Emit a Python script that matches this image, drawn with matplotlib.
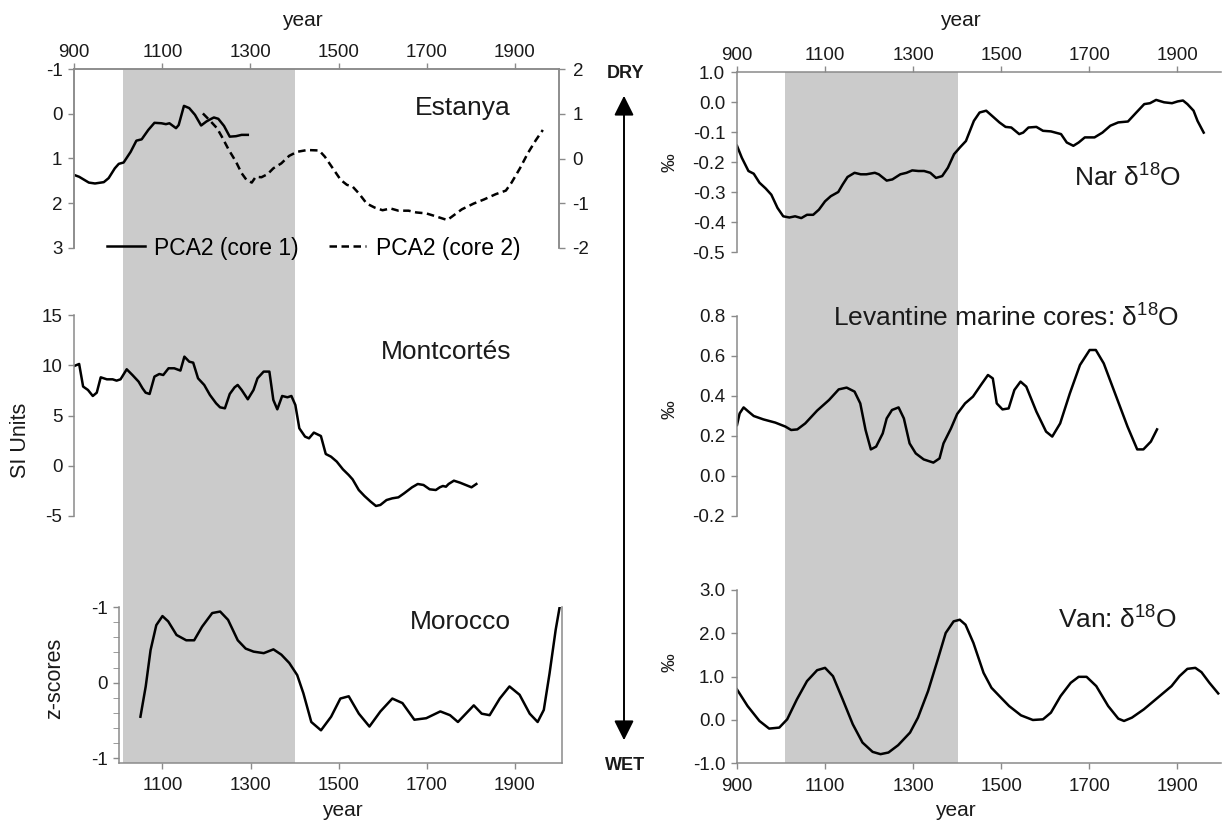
import matplotlib
matplotlib.use('Agg')
import matplotlib.pyplot as plt
from matplotlib.patches import FancyArrowPatch
import numpy as np

plt.rcParams['font.family'] = ['Liberation Sans', 'DejaVu Sans']
plt.rcParams['mathtext.default'] = 'regular'
plt.rcParams['axes.unicode_minus'] = False

# ---- data ----
shade_start, shade_end = 1010, 1402

est1_year = [900, 911, 933, 947, 967, 978, 992, 1001, 1012, 1028, 1041, 1053, 1068, 1082, 1098, 1108,
             1116, 1131, 1137, 1149, 1161, 1174, 1188, 1200, 1209, 1217, 1227, 1240, 1253, 1267, 1280, 1294]
est1_val = [1.37, 1.41, 1.54, 1.56, 1.53, 1.44, 1.22, 1.12, 1.09, 0.85, 0.60, 0.57, 0.36, 0.20, 0.21, 0.23,
            0.21, 0.32, 0.25, -0.18, -0.13, 0.02, 0.26, 0.17, 0.12, 0.08, 0.11, 0.27, 0.51, 0.50, 0.47, 0.47]

est2_year = [1192, 1208, 1224, 1235, 1251, 1267, 1280, 1291, 1303, 1312, 1325, 1339, 1352, 1370, 1388, 1406,
             1429, 1456, 1469, 1487, 1505, 1519, 1532, 1546, 1564, 1582, 1600, 1618, 1636, 1659, 1677, 1699,
             1722, 1747, 1758, 1780, 1807, 1830, 1857, 1880, 1893, 1912, 1930, 1948, 1964]
est2_val = [1.01, 0.85, 0.68, 0.49, 0.19, -0.07, -0.33, -0.48, -0.54, -0.41, -0.42, -0.35, -0.22, -0.11, 0.06, 0.15,
            0.19, 0.18, 0.04, -0.22, -0.48, -0.59, -0.63, -0.78, -1.01, -1.10, -1.16, -1.12, -1.17, -1.17, -1.21, -1.23,
            -1.30, -1.38, -1.30, -1.14, -1.01, -0.92, -0.80, -0.72, -0.54, -0.22, 0.12, 0.41, 0.64]

mont_year = [900, 911, 920, 931, 942, 951, 960, 974, 987, 996, 1005, 1019, 1032, 1046, 1055, 1062, 1071, 1082,
             1093, 1102, 1114, 1127, 1141, 1150, 1161, 1170, 1181, 1195, 1208, 1222, 1231, 1242, 1253, 1264,
             1271, 1280, 1294, 1307, 1316, 1330, 1343, 1352, 1361, 1372, 1384, 1393, 1402, 1411, 1424, 1433,
             1444, 1460, 1471, 1483, 1496, 1510, 1523, 1532, 1546, 1559, 1573, 1585, 1595, 1609, 1622, 1636,
             1649, 1667, 1680, 1693, 1707, 1721, 1730, 1737, 1744, 1750, 1762, 1776, 1789, 1802, 1813]
mont_val = [9.95, 10.15, 7.9, 7.56, 6.96, 7.29, 8.82, 8.62, 8.62, 8.49, 8.62, 9.62, 9.05, 8.39, 7.72, 7.29, 7.16, 8.89,
            9.15, 9.05, 9.72, 9.72, 9.49, 10.88, 10.38, 10.28, 8.72, 8.06, 7.06, 6.23, 5.83, 5.73, 7.16, 7.82,
            8.06, 7.56, 6.63, 7.56, 8.72, 9.39, 9.39, 6.56, 5.63, 6.96, 6.83, 6.96, 6.06, 3.74, 2.91, 2.74,
            3.31, 2.97, 1.18, 0.91, 0.42, -0.35, -0.91, -1.35, -2.41, -3.01, -3.57, -4.0, -3.9, -3.41, -3.24, -3.14,
            -2.74, -2.14, -1.81, -1.91, -2.34, -2.41, -2.14, -2.01, -2.08, -1.81, -1.48, -1.68, -1.91, -2.14, -1.81]

mor_year = [1050, 1062, 1073, 1086, 1100, 1113, 1132, 1154, 1172, 1190, 1213, 1231, 1249, 1271, 1289, 1307,
            1330, 1352, 1370, 1388, 1406, 1420, 1438, 1460, 1483, 1504, 1523, 1546, 1570, 1595, 1622, 1645,
            1672, 1699, 1731, 1753, 1771, 1789, 1807, 1825, 1843, 1866, 1888, 1911, 1934, 1952, 1966, 1979,
            1993, 2002]
mor_val = [0.45, 0.05, -0.43, -0.76, -0.88, -0.81, -0.63, -0.56, -0.56, -0.74, -0.92, -0.94, -0.83, -0.56, -0.45, -0.41,
           -0.39, -0.44, -0.37, -0.26, -0.10, 0.14, 0.52, 0.63, 0.45, 0.21, 0.18, 0.41, 0.58, 0.38, 0.21, 0.27,
           0.49, 0.47, 0.38, 0.43, 0.52, 0.41, 0.30, 0.41, 0.43, 0.21, 0.05, 0.16, 0.41, 0.52, 0.36, -0.12,
           -0.70, -1.0]

nar_year = [900, 911, 926, 938, 951, 965, 978, 992, 1005, 1019, 1032, 1046, 1059, 1073, 1086, 1100, 1113, 1130,
            1140, 1151, 1167, 1181, 1194, 1213, 1222, 1240, 1253, 1271, 1285, 1298, 1312, 1325, 1339, 1352,
            1366, 1379, 1393, 1406, 1420, 1438, 1451, 1466, 1483, 1496, 1510, 1523, 1541, 1550, 1562, 1580,
            1595, 1613, 1636, 1649, 1664, 1676, 1690, 1712, 1730, 1748, 1766, 1788, 1807, 1825, 1838, 1852,
            1870, 1888, 1901, 1913, 1923, 1937, 1946, 1960]
nar_val = [-0.145, -0.185, -0.229, -0.238, -0.268, -0.287, -0.308, -0.352, -0.380, -0.384, -0.380, -0.386, -0.375,
           -0.375, -0.358, -0.330, -0.313, -0.299, -0.274, -0.249, -0.235, -0.240, -0.240, -0.235, -0.240, -0.261,
           -0.257, -0.240, -0.235, -0.227, -0.229, -0.229, -0.235, -0.252, -0.246, -0.218, -0.173, -0.151, -0.129,
           -0.062, -0.034, -0.028, -0.050, -0.067, -0.082, -0.084, -0.106, -0.101, -0.084, -0.082, -0.095, -0.097,
           -0.106, -0.134, -0.145, -0.134, -0.117, -0.117, -0.101, -0.078, -0.067, -0.064, -0.034, -0.006, -0.003,
           0.008, 0.0, -0.003, 0.003, 0.006, -0.006, -0.028, -0.062, -0.101]

lev_year = [900, 906, 915, 926, 938, 960, 987, 1010, 1023, 1037, 1055, 1082, 1109, 1131, 1149, 1167, 1180, 1192,
            1204, 1216, 1231, 1240, 1252, 1267, 1279, 1292, 1306, 1324, 1346, 1360, 1369, 1386, 1400, 1418,
            1436, 1454, 1470, 1481, 1490, 1503, 1517, 1530, 1544, 1557, 1580, 1602, 1616, 1634, 1656, 1679,
            1701, 1715, 1733, 1760, 1787, 1809, 1823, 1840, 1854]
lev_val = [0.255, 0.313, 0.343, 0.322, 0.300, 0.283, 0.267, 0.247, 0.230, 0.233, 0.263, 0.327, 0.380, 0.433, 0.442,
           0.422, 0.363, 0.230, 0.133, 0.147, 0.213, 0.288, 0.330, 0.343, 0.288, 0.163, 0.113, 0.083, 0.067, 0.088,
           0.163, 0.238, 0.310, 0.363, 0.397, 0.455, 0.505, 0.488, 0.363, 0.333, 0.338, 0.430, 0.472, 0.447, 0.322,
           0.222, 0.197, 0.263, 0.413, 0.555, 0.630, 0.630, 0.563, 0.405, 0.247, 0.133, 0.133, 0.172, 0.233]

van_year = [900, 924, 951, 973, 996, 1014, 1036, 1059, 1082, 1100, 1118, 1140, 1163, 1185, 1208, 1226, 1244, 1266,
            1293, 1311, 1334, 1356, 1374, 1392, 1406, 1419, 1437, 1460, 1478, 1496, 1518, 1545, 1572, 1595,
            1613, 1635, 1658, 1676, 1694, 1716, 1743, 1766, 1779, 1797, 1824, 1851, 1887, 1905, 1923, 1941,
            1955, 1973, 1993]
van_val = [0.705, 0.322, -0.023, -0.199, -0.176, 0.015, 0.475, 0.897, 1.149, 1.203, 1.011, 0.475, -0.100, -0.521,
           -0.736, -0.789, -0.751, -0.582, -0.291, 0.054, 0.667, 1.395, 2.008, 2.276, 2.314, 2.199, 1.778, 1.088,
           0.743, 0.552, 0.322, 0.107, 0.0, 0.015, 0.169, 0.552, 0.858, 0.996, 0.996, 0.782, 0.322, 0.031, -0.023,
           0.054, 0.245, 0.475, 0.782, 1.011, 1.180, 1.203, 1.103, 0.858, 0.613]

year_ticks = [900, 1100, 1300, 1500, 1700, 1900]

# ---- layout ----
W, H = 1226, 823
fig = plt.figure(figsize=(W / 100, H / 100), dpi=100)

SPINE = '#8a8a8a'
TXT = '#1a1a1a'
LW = 1.8
TICK_FS = 13.5
TITLE_FS = 19


def box(x0, x1, ytop, ybot):
    return [x0 / W, 1 - ybot / H, (x1 - x0) / W, (ybot - ytop) / H]


def style(ax, show):
    for s in ['top', 'bottom', 'left', 'right']:
        ax.spines[s].set_visible(s in show)
        ax.spines[s].set_color(SPINE)
        ax.spines[s].set_linewidth(1.1)
    ax.tick_params(colors=SPINE, labelcolor=TXT, labelsize=TICK_FS, length=4.5, width=1.0, direction='out')
    ax.tick_params(axis='y', pad=4)
    ax.patch.set_visible(False)


def ftext(x, y, s, **kw):
    fig.text(x / W, 1 - y / H, s, color=TXT, **kw)


# shaded band behind each column
for x0, x1, yt, yb in [(74.3, 558.7, 69.3, 762.7), (737, 1221.3, 72.3, 763.3)]:
    bg = fig.add_axes(box(x0, x1, yt, yb))
    bg.set_xlim(900, 2000)
    bg.axvspan(shade_start, shade_end, color='#cbcbcb', lw=0)
    bg.axis('off')

# Estanya
ax = fig.add_axes(box(74.3, 558.7, 69.3, 247.7))
l1, = ax.plot(est1_year, est1_val, color='k', lw=LW, label='PCA2 (core 1)')
ax.set_xlim(900, 2000)
ax.set_ylim(3, -1)
ax.set_yticks([-1, 0, 1, 2, 3])
ax.xaxis.tick_top()
ax.set_xticks(year_ticks)
style(ax, ['top', 'left', 'right'])
ax.tick_params(axis='x', pad=1.5)
ax2 = ax.twinx()
l2, = ax2.plot(est2_year, est2_val, color='k', lw=LW, ls=(0, (3, 1.8)), label='PCA2 (core 2)')
ax2.set_ylim(-2, 2)
ax2.set_yticks([-2, -1, 0, 1, 2])
style(ax2, ['top', 'left', 'right'])
ax2.tick_params(axis='y', pad=5.5)
ax2.legend([l1, l2], ['PCA2 (core 1)', 'PCA2 (core 2)'], loc='center left',
           bbox_to_anchor=(106.8 / W, 1 - 248 / H), bbox_transform=fig.transFigure,
           frameon=False, ncol=2, fontsize=16.5, handlelength=1.65, handletextpad=0.42,
           columnspacing=1.3, borderpad=0, borderaxespad=0)
ftext(302, 20, 'year', fontsize=15, ha='center', va='center')
ftext(511, 108, 'Estanya', fontsize=TITLE_FS, ha='right', va='center')

# Montcortes
ax = fig.add_axes(box(74.3, 558.7, 315.3, 516))
ax.plot(mont_year, mont_val, color='k', lw=LW)
ax.set_xlim(900, 2000)
ax.set_ylim(-5, 15)
ax.set_yticks([-5, 0, 5, 10, 15])
ax.set_xticks([])
style(ax, ['left'])
ftext(20, 440, 'SI Units', fontsize=15.5, ha='center', va='center', rotation=90)
ftext(511, 352, 'Montcortés', fontsize=TITLE_FS, ha='right', va='center')

# Morocco
ax = fig.add_axes(box(119.3, 562.3, 607, 762.7))
ax.plot(mor_year, mor_val, color='k', lw=LW)
ax.set_xlim(1002, 2008)
ax.set_ylim(1.058, -1)
ax.set_yticks([-1, 0, 1])
ax.set_yticklabels(['-1', '0', '-1'])
ax.set_yticks(np.arange(-1, 1.01, 0.2), minor=True)
ax.set_xticks(year_ticks[1:])
style(ax, ['left', 'bottom', 'right'])
ax.tick_params(axis='y', which='minor', length=4.5, color=SPINE)
ax.tick_params(axis='x', pad=6)
ftext(55, 678, 'z-scores', fontsize=15.5, ha='center', va='center', rotation=90)
ftext(342, 811, 'year', fontsize=15, ha='center', va='center')
ftext(511, 622, 'Morocco', fontsize=TITLE_FS, ha='right', va='center')

# Nar
ax = fig.add_axes(box(737, 1221.3, 72.3, 252.3))
ax.plot(nar_year, nar_val, color='k', lw=LW)
ax.set_xlim(900, 2000)
ax.set_ylim(-0.5, 0.1)
ax.set_yticks([0.1, 0.0, -0.1, -0.2, -0.3, -0.4, -0.5])
ax.set_yticklabels(['1.0', '0.0', '-0.1', '-0.2', '-0.3', '-0.4', '-0.5'])
ax.xaxis.tick_top()
ax.set_xticks(year_ticks)
style(ax, ['top', 'left'])
ax.tick_params(axis='x', pad=1.5)
ftext(960, 20, 'year', fontsize=15, ha='center', va='center')
ftext(670, 163, '‰', fontsize=13.5, ha='center', va='center', rotation=90)
ftext(1181, 178, 'Nar δ$^{18}$O', fontsize=TITLE_FS, ha='right', va='center')

# Levantine
ax = fig.add_axes(box(737, 1221.3, 316, 516))
ax.plot(lev_year, lev_val, color='k', lw=LW)
ax.set_xlim(900, 2000)
ax.set_ylim(-0.2, 0.8)
ax.set_yticks([-0.2, 0.0, 0.2, 0.4, 0.6, 0.8])
ax.set_yticklabels(['-0.2', '0.0', '0.2', '0.4', '0.6', '0.8'])
ax.set_xticks([])
style(ax, ['left'])
ftext(670, 410, '‰', fontsize=13.5, ha='center', va='center', rotation=90)
ftext(1179, 318, 'Levantine marine cores: δ$^{18}$O', fontsize=TITLE_FS, ha='right', va='center')

# Van
ax = fig.add_axes(box(737, 1221.3, 590, 763.3))
ax.plot(van_year, van_val, color='k', lw=LW)
ax.set_xlim(900, 2000)
ax.set_ylim(-1, 3)
ax.set_yticks([-1, 0, 1, 2, 3])
ax.set_yticklabels(['-1.0', '0.0', '1.0', '2.0', '3.0'])
ax.set_xticks(year_ticks)
style(ax, ['left', 'bottom'])
ax.tick_params(axis='x', pad=6)
ftext(670, 663, '‰', fontsize=13.5, ha='center', va='center', rotation=90)
ftext(955, 811, 'year', fontsize=15, ha='center', va='center')
ftext(1177, 620, 'Van: δ$^{18}$O', fontsize=TITLE_FS, ha='right', va='center')

# DRY / WET arrow
arrow = FancyArrowPatch((624 / W, 1 - 743 / H), (624 / W, 1 - 93 / H), transform=fig.transFigure,
                        arrowstyle='<|-|>,head_length=1.2,head_width=0.6', mutation_scale=10,
                        color='k', lw=1.4)
fig.add_artist(arrow)
ftext(625, 73, 'DRY', fontsize=13, fontweight='bold', ha='center', va='center')
ftext(625, 765, 'WET', fontsize=13, fontweight='bold', ha='center', va='center')

fig.savefig('out.png', dpi=100)
